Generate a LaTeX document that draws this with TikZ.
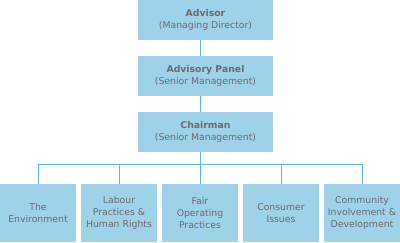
\documentclass[tikz,border=0pt]{standalone}
\usepackage{fontspec}
\setmainfont{DejaVu Sans}
\definecolor{boxblue}{HTML}{9ED2E9}
\definecolor{lineblue}{HTML}{5DB7E0}
\definecolor{txtgrey}{HTML}{6A6B6E}
\begin{document}
\begin{tikzpicture}[x=1pt,y=-1pt,
  box/.style={fill=boxblue,draw=none,inner sep=0pt,text=txtgrey,align=center,font=\fontsize{9.3}{12}\selectfont},
  conn/.style={draw=lineblue,line width=1pt}]
\useasboundingbox (0,0) rectangle (400,242);
\node[box,minimum width=135pt,minimum height=40pt] (adv) at (205.5,20) {\textbf{Advisor}\\(Managing Director)};
\node[box,minimum width=135pt,minimum height=40pt] (pan) at (205.5,76) {\textbf{Advisory Panel}\\(Senior Management)};
\node[box,minimum width=135pt,minimum height=40pt] (chr) at (205.5,132) {\textbf{Chairman}\\(Senior Management)};
\node[box,minimum width=76pt,minimum height=58pt] (b1) at (38,213) {The\\Environment};
\node[box,minimum width=76pt,minimum height=58pt] (b2) at (119,213) {Labour\\Practices \&\\Human Rights};
\node[box,minimum width=76pt,minimum height=58pt] (b3) at (200,213) {Fair\\Operating\\Practices};
\node[box,minimum width=76pt,minimum height=58pt] (b4) at (281,213) {Consumer\\Issues};
\node[box,minimum width=76pt,minimum height=58pt] (b5) at (362,213) {Community\\Involvement \&\\Development};
\coordinate (hl) at (38,164);
\coordinate (hr) at (362,164);
\draw[conn] (adv.south -| 200,0) -- (pan.north -| 200,0);
\draw[conn] (pan.south -| 200,0) -- (chr.north -| 200,0);
\draw[conn] (chr.south -| 200,0) -- (b3.north);
\draw[conn] (hl) -- (hr);
\draw[conn] (hl) -- (b1.north);
\draw[conn] (b2.north |- hl) -- (b2.north);
\draw[conn] (b4.north |- hl) -- (b4.north);
\draw[conn] (hr) -- (b5.north);
\end{tikzpicture}
\end{document}
